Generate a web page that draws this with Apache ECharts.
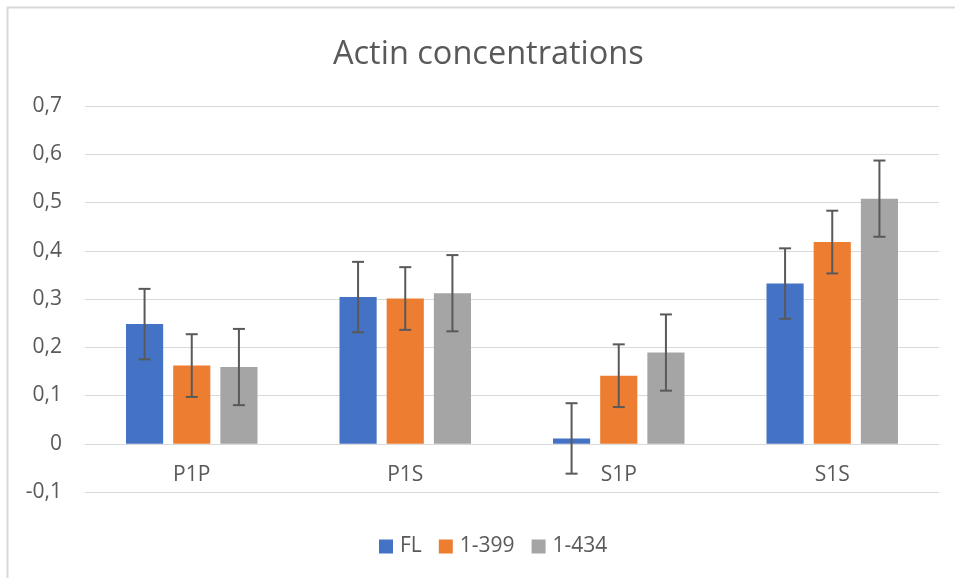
<!DOCTYPE html>
<html>
<head>
<meta charset="utf-8">
<script src="https://cdn.jsdelivr.net/npm/echarts@6/dist/echarts.min.js"></script>
<style>html,body{margin:0;padding:0;background:#fff;}#c{width:955px;height:578px;}</style>
</head>
<body>
<div id="c"></div>
<script>
const categories = ['P1P', 'P1S', 'S1P', 'S1S'];
const seriesNames = ['FL', '1-399', '1-434'];
const valuesFL = [0.248, 0.304, 0.011, 0.332];
const values399 = [0.162, 0.301, 0.141, 0.418];
const values434 = [0.159, 0.312, 0.189, 0.508];
const errFL = [0.073, 0.073, 0.073, 0.073];
const err399 = [0.065, 0.065, 0.065, 0.065];
const err434 = [0.079, 0.079, 0.079, 0.079];
const yTicks = [-0.1, 0, 0.1, 0.2, 0.3, 0.4, 0.5, 0.6, 0.7];

const colors = ['#4472C4', '#ED7D31', '#A5A5A5'];
const allValues = [valuesFL, values399, values434];
const allErr = [errFL, err399, err434];
const BAR_W = 0.174, BAR_GAP = 0.27;
const FONT = 'Open Sans';

const chart = echarts.init(document.getElementById('c'));

const series = [];
allValues.forEach((vals, i) => {
  series.push({
    name: seriesNames[i],
    type: 'bar',
    data: vals,
    barWidth: (BAR_W * 100) + '%',
    barGap: (BAR_GAP * 100) + '%',
    itemStyle: { color: colors[i] },
    z: 2
  });
});
allValues.forEach((vals, i) => {
  series.push({
    type: 'custom',
    name: 'err' + i,
    data: vals.map((v, j) => [j, v - allErr[i][j], v + allErr[i][j]]),
    z: 5,
    silent: true,
    encode: { x: 0, y: [1, 2] },
    renderItem: function (params, api) {
      const band = api.size([1, 0])[0];
      const bw = band * BAR_W;
      const offset = (i - 1) * bw * (1 + BAR_GAP);
      const lo = api.coord([api.value(0), api.value(1)]);
      const hi = api.coord([api.value(0), api.value(2)]);
      const x = lo[0] + offset;
      const cap = 6;
      const style = { stroke: '#595959', lineWidth: 2 };
      return {
        type: 'group',
        children: [
          { type: 'line', shape: { x1: x, y1: lo[1], x2: x, y2: hi[1] }, style: style },
          { type: 'line', shape: { x1: x - cap, y1: lo[1], x2: x + cap, y2: lo[1] }, style: style },
          { type: 'line', shape: { x1: x - cap, y1: hi[1], x2: x + cap, y2: hi[1] }, style: style }
        ]
      };
    }
  });
});

chart.setOption({
  animation: false,
  backgroundColor: '#ffffff',
  textStyle: { fontFamily: FONT },
  graphic: [{
    type: 'rect',
    shape: { x: 7.5, y: 7.5, width: 1000, height: 1000 },
    style: { fill: 'none', stroke: '#d9d9d9', lineWidth: 2 },
    silent: true
  }],
  title: {
    text: 'Actin concentrations',
    left: 328,
    top: 33,
    textStyle: { fontFamily: FONT, fontSize: 32.5, fontWeight: 'normal', color: '#595959' }
  },
  legend: {
    data: seriesNames,
    top: 531,
    left: 374,
    icon: 'rect',
    itemWidth: 14,
    itemHeight: 14,
    itemGap: 17,
    textStyle: { fontFamily: FONT, fontSize: 21, color: '#595959', padding: [0, 0, 0, 2] }
  },
  grid: { left: 85, right: 16, top: 106, bottom: 86, containLabel: false },
  xAxis: {
    type: 'category',
    data: categories,
    axisLine: { onZero: true, lineStyle: { color: '#d9d9d9', width: 1 } },
    axisTick: { show: false },
    axisLabel: { color: '#595959', fontSize: 21, fontFamily: FONT, margin: -27 }
  },
  yAxis: {
    type: 'value',
    min: yTicks[0],
    max: yTicks[yTicks.length - 1],
    interval: 0.1,
    axisLine: { show: false },
    axisTick: { show: false },
    splitLine: { lineStyle: { color: '#d9d9d9', width: 1 } },
    axisLabel: {
      color: '#595959', fontSize: 21, fontFamily: FONT, margin: 23,
      formatter: function (v) {
        const r = Math.round(v * 10) / 10;
        return String(r).replace('.', ',');
      }
    }
  },
  series: series
});
</script>
</body>
</html>
